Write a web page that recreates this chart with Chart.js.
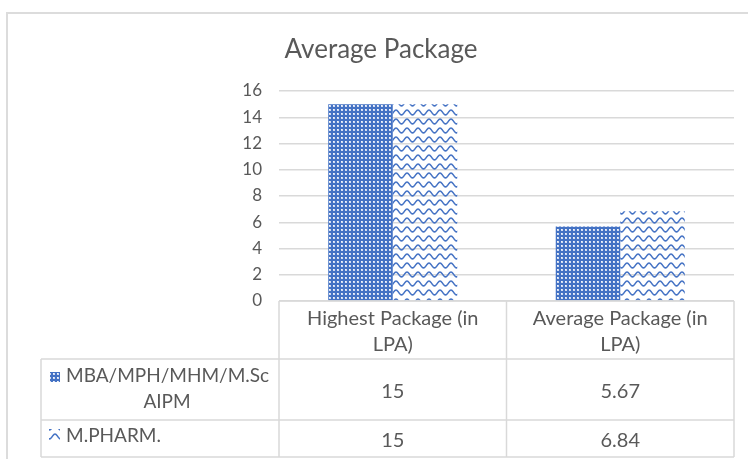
<!DOCTYPE html>
<html>
<head>
<meta charset="utf-8">
<script src="https://cdn.jsdelivr.net/npm/chart.js@4"></script>
<style>
  body { margin: 0; background: #fff; }
  #wrap { width: 748px; height: 459px; }
</style>
</head>
<body>
<div id="wrap"><canvas id="chart" width="748" height="459"></canvas></div>
<script>
// data
const chartTitle = "Average Package";
const categories = [["Highest Package (in", "LPA)"], ["Average Package (in", "LPA)"]];
const seriesNames = [["MBA/MPH/MHM/M.Sc", "AIPM"], ["M.PHARM."]];
const mbaValues = [15, 5.67];
const pharmValues = [15, 6.84];
const yMin = 0, yMax = 16, yStep = 2;

const blue = "#4472C4";
const textGrey = "#595959";
const lineGrey = "#d9d9d9";
const fontName = "Lato, 'Open Sans', sans-serif";

var canvas = document.getElementById("chart");
var ctx0 = canvas.getContext("2d");

// dotted fill, series 1
function dotPattern() {
  var c = document.createElement("canvas");
  c.width = 4; c.height = 4;
  var g = c.getContext("2d");
  g.fillStyle = blue;
  g.fillRect(0, 0, 4, 4);
  g.fillStyle = "#d3ddf2";
  g.fillRect(1, 1, 2, 2);
  g.fillStyle = "#f4f7fc";
  g.fillRect(1, 1, 1, 1);
  return ctx0.createPattern(c, "repeat");
}

// wave fill, series 2
function wavePattern() {
  var c = document.createElement("canvas");
  c.width = 11; c.height = 9;
  var g = c.getContext("2d");
  g.strokeStyle = blue;
  g.lineWidth = 1.5;
  g.beginPath();
  for (var x = -1; x <= 12; x += 0.5) {
    var y = 4.5 - 2.4 * Math.cos(2 * Math.PI * x / 11);
    if (x === -1) g.moveTo(x, y); else g.lineTo(x, y);
  }
  g.stroke();
  return ctx0.createPattern(c, "repeat");
}

var dots = dotPattern();
var waves = wavePattern();
var fills = [dots, waves];

// outer frame + title
var framePlugin = {
  id: "frame",
  beforeDraw: function (chart) {
    var ctx = chart.ctx;
    ctx.save();
    ctx.fillStyle = "#fff";
    ctx.fillRect(0, 0, chart.width, chart.height);
    ctx.strokeStyle = "#dcdcdc";
    ctx.lineWidth = 2;
    ctx.strokeRect(7, 13, chart.width + 20, chart.height + 20);
    ctx.restore();
  },
  afterDraw: function (chart) {
    var ctx = chart.ctx;
    ctx.save();
    ctx.fillStyle = textGrey;
    ctx.font = "26px " + fontName;
    ctx.textAlign = "center";
    ctx.textBaseline = "alphabetic";
    ctx.fillText(chartTitle, 381, 58);
    ctx.restore();
  }
};

// excel style data table under the plot
var tablePlugin = {
  id: "dataTable",
  afterDraw: function (chart) {
    var ctx = chart.ctx;
    var area = chart.chartArea;
    var xs = chart.scales.x;
    var n = categories.length;
    var colW = (area.right - area.left) / n;
    var top = area.bottom;
    var headBottom = top + 58;
    var row1Bottom = headBottom + 61;
    var row2Bottom = row1Bottom + 37;
    var tableLeft = 41;

    ctx.save();
    ctx.strokeStyle = lineGrey;
    ctx.lineWidth = 1.5;
    ctx.beginPath();
    // horizontal lines
    ctx.moveTo(area.left, top); ctx.lineTo(area.right, top);
    ctx.moveTo(tableLeft, headBottom); ctx.lineTo(area.right, headBottom);
    ctx.moveTo(tableLeft, row1Bottom); ctx.lineTo(area.right, row1Bottom);
    ctx.moveTo(tableLeft, row2Bottom); ctx.lineTo(area.right, row2Bottom);
    // vertical lines
    ctx.moveTo(tableLeft, headBottom); ctx.lineTo(tableLeft, row2Bottom);
    for (var i = 0; i <= n; i++) {
      var vx = area.left + colW * i;
      ctx.moveTo(vx, top); ctx.lineTo(vx, row2Bottom);
    }
    ctx.stroke();

    ctx.fillStyle = textGrey;
    ctx.font = "20px " + fontName;
    ctx.textAlign = "center";
    ctx.textBaseline = "alphabetic";

    // header
    for (var c = 0; c < n; c++) {
      var cx = xs.getPixelForValue(c);
      ctx.fillText(categories[c][0], cx, top + 24);
      ctx.fillText(categories[c][1], cx, top + 50);
    }

    // rows
    var series = [mbaValues, pharmValues];
    var rowMid = [(headBottom + row1Bottom) / 2, (row1Bottom + row2Bottom) / 2];
    for (var r = 0; r < series.length; r++) {
      for (var c = 0; c < n; c++) {
        ctx.textAlign = "center";
        ctx.fillText(String(series[r][c]), xs.getPixelForValue(c), rowMid[r] + 8);
      }
    }

    // legend cells
    ctx.fillStyle = fills[0];
    ctx.fillRect(50, headBottom + 13, 10, 10);
    ctx.fillStyle = fills[1];
    ctx.fillRect(49, row1Bottom + 9, 11, 11);

    ctx.fillStyle = textGrey;
    ctx.font = "19px " + fontName;
    ctx.textAlign = "left";
    ctx.fillText(seriesNames[0][0], 66, headBottom + 23);
    ctx.textAlign = "center";
    ctx.fillText(seriesNames[0][1], 167, headBottom + 49);
    ctx.textAlign = "left";
    ctx.fillText(seriesNames[1][0], 66, row1Bottom + 22);
    ctx.restore();
  }
};

var chart = new Chart(canvas, {
  type: "bar",
  data: {
    labels: categories,
    datasets: [
      {
        label: seriesNames[0].join(" "),
        data: mbaValues,
        backgroundColor: dots,
        borderWidth: 0,
        categoryPercentage: 0.567,
        barPercentage: 1
      },
      {
        label: seriesNames[1].join(" "),
        data: pharmValues,
        backgroundColor: waves,
        borderWidth: 0,
        categoryPercentage: 0.567,
        barPercentage: 1
      }
    ]
  },
  options: {
    responsive: false,
    animation: false,
    events: [],
    devicePixelRatio: 1,
    layout: { padding: { left: 0, right: 14, top: 91, bottom: 158 } },
    plugins: {
      legend: { display: false },
      title: { display: false },
      tooltip: { enabled: false }
    },
    scales: {
      x: { display: false },
      y: {
        min: yMin,
        max: yMax,
        ticks: {
          stepSize: yStep,
          padding: 17,
          color: textGrey,
          font: { family: fontName, size: 17 }
        },
        grid: { color: lineGrey, lineWidth: 1.5, drawTicks: false },
        border: { display: false },
        afterFit: function (scale) { scale.width = 279; }
      }
    }
  },
  plugins: [framePlugin, tablePlugin]
});
</script>
</body>
</html>
